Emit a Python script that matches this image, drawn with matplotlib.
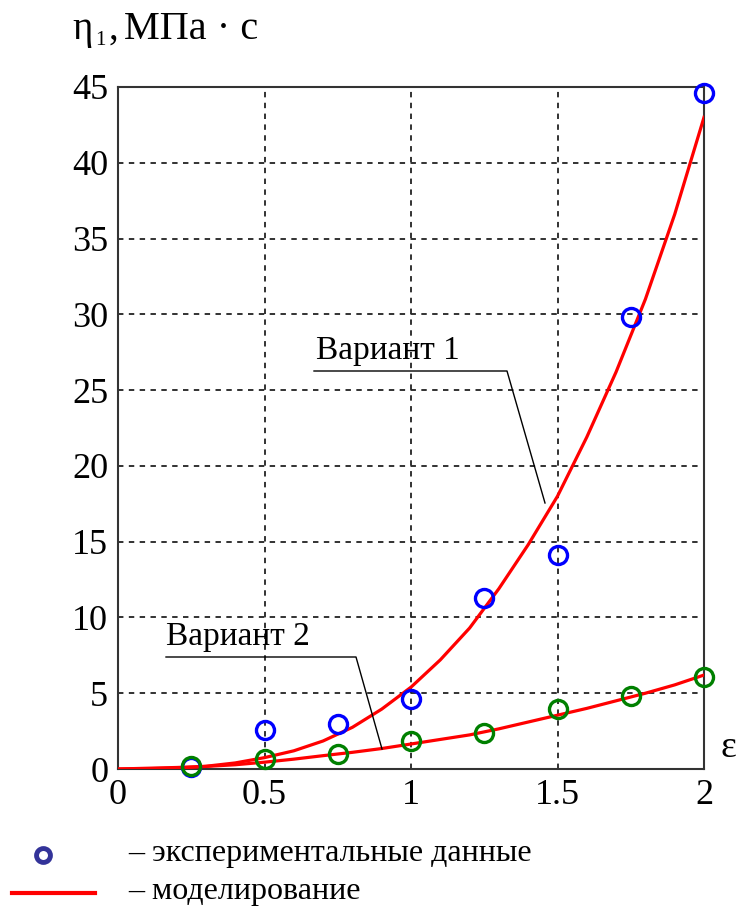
import matplotlib.pyplot as plt
from matplotlib.lines import Line2D

# experimental points
eps_exp = [0.25, 0.5, 0.75, 1.0, 1.25, 1.5, 1.75, 2.0]
eta_exp_1 = [0.15, 2.6, 2.95, 4.65, 11.3, 14.1, 29.8, 44.6]
eta_exp_2 = [0.2, 0.65, 1.0, 1.85, 2.35, 3.95, 4.8, 6.05]

# model curves
eps_model = [0, 0.1, 0.2, 0.3, 0.4, 0.5, 0.6, 0.7, 0.8, 0.9, 1.0,
             1.1, 1.2, 1.3, 1.4, 1.5, 1.6, 1.7, 1.8, 1.9, 2.0]
eta_model_1 = [0, 0.02, 0.06, 0.18, 0.4, 0.75, 1.2, 1.85, 2.75, 3.95, 5.4,
               7.2, 9.3, 11.9, 14.8, 18.0, 21.9, 26.2, 31.0, 36.6, 43.0]
eta_model_2 = [0, 0.05, 0.1, 0.17, 0.28, 0.45, 0.65, 0.88, 1.1, 1.35, 1.65,
               1.95, 2.25, 2.65, 3.1, 3.55, 4.0, 4.5, 5.0, 5.55, 6.2]

xticks = [0, 0.5, 1, 1.5, 2]
xtick_labels = ["0", "0.5", "1", "1.5", "2"]
yticks = [0, 5, 10, 15, 20, 25, 30, 35, 40, 45]

plt.rcParams['font.family'] = ['Liberation Serif', 'DejaVu Serif']

W, H = 736, 909
fig = plt.figure(figsize=(W / 100, H / 100), dpi=100)
ax = fig.add_axes([118 / W, 1 - 769 / H, (704 - 118) / W, (769 - 87) / H])

red = "#ff0000"
ax.plot(eps_model, eta_model_1, color=red, lw=2.3, zorder=3)
ax.plot(eps_model, eta_model_2, color=red, lw=2.3, zorder=3)
ax.plot(eps_exp, eta_exp_1, 'o', ms=13, mfc='none', mec="#0000ff", mew=2.4, zorder=4, clip_on=False)
ax.plot(eps_exp, eta_exp_2, 'o', ms=13, mfc='none', mec="#008000", mew=2.4, zorder=4, clip_on=False)

ax.set_xlim(0, 2)
ax.set_ylim(0, 45)
ax.set_xticks(xticks)
ax.set_xticklabels(xtick_labels)
ax.set_yticks(yticks)
ax.tick_params(length=0, labelsize=26, pad=7)
ax.grid(True, color="#222222", ls=(0, (3, 3)), lw=1.3)
for s in ax.spines.values():
    s.set_color("#333333")
    s.set_linewidth(1.5)

# annotations in pixel coords -> data
def px2data(x, y):
    return (x - 118) / (704 - 118) * 2, (769 - y) / (769 - 87) * 45

p = [px2data(314, 371), px2data(507, 371), px2data(545, 503)]
ax.plot([q[0] for q in p], [q[1] for q in p], color="black", lw=1.0, zorder=5)
ax.text(*px2data(316, 366), "Вариант 1", fontsize=24, ha='left', va='bottom')
p = [px2data(166, 657), px2data(356, 657), px2data(382, 749)]
ax.plot([q[0] for q in p], [q[1] for q in p], color="black", lw=1.0, zorder=5)
ax.text(*px2data(166, 652), "Вариант 2", fontsize=24, ha='left', va='bottom')

# axis titles
fig.text(72 / W, 1 - 39 / H, "η", fontsize=28, ha='left', va='baseline')
fig.text(95 / W, 1 - 45 / H, "1", fontsize=15, ha='left', va='baseline')
fig.text(108 / W, 1 - 39 / H, ",", fontsize=28, ha='left', va='baseline')
fig.text(124 / W, 1 - 39 / H, "МПа · с", fontsize=29, ha='left', va='baseline')
fig.text(728 / W, 1 - 748 / H, "ε", fontsize=27, ha='center', va='center')

# legend
fig.add_artist(Line2D([43 / W], [1 - 855 / H], marker='o', ms=10, mfc='white',
                      mec="#333399", mew=3.5, transform=fig.transFigure))
fig.add_artist(Line2D([12 / W, 95 / W], [1 - 893 / H, 1 - 893 / H], color=red,
                      lw=3, transform=fig.transFigure))
fig.text(128 / W, 1 - 853 / H, "– экспериментальные данные", fontsize=23, ha='left', va='center')
fig.text(128 / W, 1 - 891 / H, "– моделирование", fontsize=23, ha='left', va='center')

fig.savefig("out.png", dpi=100)
